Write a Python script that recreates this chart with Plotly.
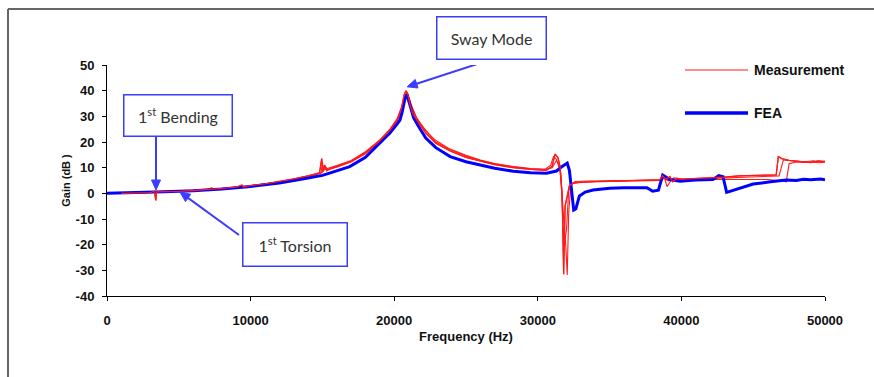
import math
import plotly.graph_objects as go

# ---------------- data ----------------
fea_freq = [0, 2000, 4000, 6000, 8000, 10000, 12000, 14000, 15000, 15500, 16900, 18000,
            19200, 19700, 20200, 20400, 20550, 20750, 20880, 21000, 21150, 21350, 21700,
            22200, 22900, 23900, 25000, 26000, 27000, 28300, 29500, 30600, 31300, 31700,
            32050, 32200, 32350, 32500, 32650, 32900, 33300, 33850, 35000, 36000, 37600,
            38000, 38400, 38700, 39200, 39900, 41000, 42200, 42600, 42900, 43150, 43600,
            44300, 45000, 46200, 47300, 48000, 48500, 49000, 49700, 50000]
fea_gain = [0.0, 0.2, 0.6, 1.0, 1.7, 2.7, 4.0, 6.0, 7.0, 7.9, 10.4, 14.0,
            20.8, 23.5, 27.0, 28.5, 31.5, 37.0, 38.6, 36.0, 33.0, 29.5, 26.0,
            21.5, 17.8, 14.3, 12.3, 11.0, 9.8, 8.6, 8.0, 7.8, 8.7, 10.5,
            11.8, 9.0, 2.0, -6.5, -6.0, -1.0, 0.5, 1.3, 2.0, 2.2, 2.2,
            0.8, 1.2, 7.1, 5.4, 4.7, 5.2, 5.4, 6.9, 6.5, 0.4, 1.2,
            2.6, 3.6, 4.5, 5.2, 5.0, 5.5, 5.3, 5.6, 5.3]

meas1_freq = [1000, 1500, 2000, 2500, 3000, 3300, 3400, 3450, 4000, 5000, 6000, 7000, 8000,
              9000, 9400, 9500, 10000, 11000, 12000, 13000, 14000, 14800, 14950, 15050,
              15150, 15300, 15500, 16000, 17000, 18000, 19000, 19700, 20200, 20500, 20700,
              20820, 20950, 21100, 21300, 21700, 22200, 22900, 23900, 25000, 26000, 27000,
              28300, 29500, 30600, 31000, 31200, 31400, 31550, 31700, 31800, 31900, 32050,
              32200, 32500, 33000, 34000, 35000, 36000, 37000, 38000, 38500, 38700, 38900,
              39200, 39400, 39700, 40000, 41000, 42000, 43000, 44000, 45000, 46000, 46600,
              46750, 47000, 47500, 48000, 48500, 49000, 49500, 50000]
meas1_gain = [0.0, 0.1, 0.2, 0.4, 0.3, 0.8, -2.8, 0.6, 0.6, 0.8, 1.1, 1.4, 1.9,
              2.4, 3.2, 2.5, 3.0, 3.7, 4.6, 5.6, 6.8, 8.0, 13.5, 8.5,
              11.0, 8.8, 9.5, 10.5, 12.5, 15.8, 20.5, 24.5, 28.5, 33.0, 38.5,
              40.0, 38.5, 34.5, 31.0, 27.5, 23.5, 19.5, 16.5, 14.0, 12.5, 11.2,
              10.0, 9.3, 9.0, 10.5, 15.3, 14.0, 10.5, -2.0, -31.5, -5.0, -1.0,
              3.0, 4.0, 4.3, 4.6, 4.7, 4.8, 5.0, 5.2, 5.3, 6.8, 5.5,
              6.5, 4.5, 5.8, 5.5, 5.8, 6.0, 6.3, 6.8, 7.0, 7.1, 7.2,
              14.3, 13.5, 12.8, 12.5, 12.3, 12.0, 12.6, 12.4]

meas2_freq = [1000, 2000, 3000, 4000, 5000, 6000, 7000, 7300, 7400, 8000, 10000, 12000, 14000,
              14900, 15000, 15100, 15400, 16000, 17000, 18000, 19000, 19700, 20200, 20500,
              20750, 20900, 21050, 21250, 21600, 22200, 22900, 23900, 25000, 26000, 27000,
              28300, 29500, 30500, 30900, 31100, 31300, 31600, 31800, 31950, 32050, 32150,
              32300, 32600, 33500, 35000, 37000, 38500, 38800, 39100, 39500, 40000, 41000,
              42000, 43000, 44000, 45000, 46000, 46800, 47100, 47400, 48000, 48600, 49200,
              49600, 50000]
meas2_gain = [0.1, 0.3, 0.4, 0.7, 0.9, 1.2, 1.5, 2.2, 1.5, 1.8, 2.9, 4.4, 6.6,
              7.8, 12.0, 9.0, 9.8, 10.8, 12.8, 16.2, 20.8, 25.0, 29.0, 33.5,
              37.5, 39.5, 37.0, 33.5, 29.0, 24.5, 20.0, 17.0, 14.5, 12.8, 11.5,
              10.3, 9.6, 9.3, 11.0, 14.5, 13.2, 8.0, -10.0, -20.5, -31.8, -8.0,
              3.5, 4.6, 4.8, 4.9, 5.0, 5.1, 5.8, 4.9, 6.0, 5.6, 5.6,
              5.8, 6.0, 6.2, 6.5, 6.6, 6.8, 13.0, 12.9, 12.6, 12.3, 12.7,
              12.2, 12.5]

meas3_freq = [1000, 2000, 3000, 4000, 5000, 6000, 8000, 10000, 12000, 14000, 15000, 15200,
              15400, 16000, 17000, 18000, 19000, 19700, 20200, 20500, 20700, 20850, 21000,
              21200, 21500, 22000, 22800, 23800, 25000, 26000, 27000, 28300, 29500, 30600,
              31000, 31300, 31500, 31650, 31750, 31850, 32000, 32150, 32400, 33000, 35000,
              37000, 38600, 38800, 39000, 39300, 40000, 41000, 42000, 43000, 44000, 45000,
              46000, 47000, 47300, 47500, 48000, 48500, 49000, 49500, 50000]
meas3_gain = [0.0, 0.2, 0.3, 0.6, 0.8, 1.0, 1.8, 2.8, 4.3, 6.4, 8.2, 10.5,
              9.2, 10.2, 12.2, 15.4, 20.0, 24.0, 28.0, 32.0, 36.5, 38.8, 37.5,
              34.0, 30.0, 25.5, 21.0, 17.5, 14.8, 13.0, 11.6, 10.4, 9.7, 9.4,
              10.0, 12.8, 11.0, 3.0, -12.0, -20.0, -14.0, 1.0, 3.8, 4.4, 4.6,
              4.8, 5.0, 6.5, 2.6, 5.2, 5.3, 5.4, 5.4, 5.5, 5.4, 5.4,
              5.4, 4.8, 4.5, 11.5, 12.2, 12.0, 12.3, 11.9, 12.1]

y_ticks = [-40, -30, -20, -10, 0, 10, 20, 30, 40, 50]
x_ticks = [0, 10000, 20000, 30000, 40000, 50000]

# callout targets (frequency, gain) and labels
callout_labels = ["Sway Mode", "1<sup>st</sup> Bending", "1<sup>st</sup> Torsion"]
callout_targets = [(20900, 41.5), (3412, 1.3), (5084, 0.5)]

RED = "#ff1a1a"
BLUE = "#0000ff"
BOXBLUE = "#3c3cff"

fig = go.Figure()
for fq, g in [(meas1_freq, meas1_gain), (meas2_freq, meas2_gain), (meas3_freq, meas3_gain)]:
    fig.add_trace(go.Scatter(x=fq, y=g, mode="lines", name="Measurement",
                             line=dict(color=RED, width=1.1), showlegend=False))
fig.add_trace(go.Scatter(x=fea_freq, y=fea_gain, mode="lines", name="FEA",
                         line=dict(color=BLUE, width=3), showlegend=False))
fig.add_trace(go.Scatter(x=meas1_freq, y=meas1_gain, mode="lines", name="Measurement",
                         line=dict(color=RED, width=1.3), showlegend=False))

L, R, T, B = 107, 49, 65, 81
PW, PH = 874 - L - R, 377 - T - B

def px(xp):
    return (xp - L) / PW

def py(yp):
    return (377 - B - yp) / PH

bold_font = dict(family="Liberation Sans, Arial", color="#111111", weight="bold")

fig.update_layout(
    width=874, height=377,
    margin=dict(l=L, r=R, t=T, b=B, pad=0),
    paper_bgcolor="white", plot_bgcolor="white",
    showlegend=False,
    xaxis=dict(range=[0, 50000], tickvals=x_ticks, ticktext=[str(v) for v in x_ticks],
               showgrid=False, zeroline=False, showline=True, linecolor="black", linewidth=1,
               ticks="outside", ticklen=4, tickcolor="black", ticklabelstandoff=8,
               tickfont=dict(**bold_font, size=13),
               title=dict(text="Frequency (Hz)", font=dict(**bold_font, size=13), standoff=5)),
    yaxis=dict(range=[-40, 50], tickvals=y_ticks, ticktext=[str(v) for v in y_ticks],
               showgrid=False, zeroline=False, showline=True, linecolor="black", linewidth=1,
               ticks="outside", ticklen=4, tickcolor="black", ticklabelstandoff=5,
               tickfont=dict(**bold_font, size=13),
               title=dict(text="Gain (dB )", font=dict(**bold_font, size=11), standoff=2)),
)

shapes = [
    # outer frame (top & left)
    dict(type="line", xref="paper", yref="paper", x0=px(8), x1=px(874), y0=py(9), y1=py(9),
         line=dict(color="#666666", width=2)),
    dict(type="line", xref="paper", yref="paper", x0=px(8), x1=px(8), y0=py(9), y1=py(377),
         line=dict(color="#666666", width=2)),
    # legend lines
    dict(type="line", xref="paper", yref="paper", x0=px(685), x1=px(748), y0=py(70), y1=py(70),
         line=dict(color=RED, width=1.2)),
    dict(type="line", xref="paper", yref="paper", x0=px(685), x1=px(748), y0=py(113), y1=py(113),
         line=dict(color=BLUE, width=3.5)),
]

# arrows: tail offsets in screen pixels (dx right, dy down) from the arrow tip
tail_offsets = [(83, -27), (0, -53), (59, 43)]
for (fx, gy), (dx, dy) in zip(callout_targets, tail_offsets):
    # pixel shapes: y positive upwards
    tx, ty = dx, -dy
    n = math.hypot(tx, ty)
    ux, uy = tx / n, ty / n          # unit vector from tip to tail
    hl, hw = 10, 4.5                  # head length, half width
    bx, by = ux * hl, uy * hl
    pxv, pyv = -uy * hw, ux * hw
    shapes.append(dict(type="line", xref="x", yref="y", xsizemode="pixel", ysizemode="pixel",
                       xanchor=fx, yanchor=gy, x0=tx, y0=ty, x1=bx * 0.6, y1=by * 0.6,
                       line=dict(color=BOXBLUE, width=2)))
    path = (f"M0,0 L{bx + pxv:.2f},{by + pyv:.2f} L{bx - pxv:.2f},{by - pyv:.2f} Z")
    shapes.append(dict(type="path", xref="x", yref="y", xsizemode="pixel", ysizemode="pixel",
                       xanchor=fx, yanchor=gy, path=path, fillcolor=BOXBLUE,
                       line=dict(color=BOXBLUE, width=1)))
fig.update_layout(shapes=shapes)

box_font = dict(family="Lato, Open Sans", size=16, color="#333333")
box_centers = [(491.5, 38), (178, 115.5), (295, 244.5)]
box_sizes = [(108, 41), (107, 40), (103, 42)]
annotations = [
    dict(text="Measurement", xref="paper", yref="paper", x=px(752), y=py(70),
         xanchor="left", yanchor="middle", showarrow=False, font=dict(**bold_font, size=14)),
    dict(text="FEA", xref="paper", yref="paper", x=px(752), y=py(113),
         xanchor="left", yanchor="middle", showarrow=False, font=dict(**bold_font, size=14)),
]
for lab, (cx, cy), (w, h) in zip(callout_labels, box_centers, box_sizes):
    annotations.append(dict(text=lab, xref="paper", yref="paper", x=px(cx), y=py(cy),
                            xanchor="center", yanchor="middle", showarrow=False, width=w, height=h,
                            bordercolor=BOXBLUE, borderwidth=1.5, borderpad=0, bgcolor="white",
                            font=box_font))
fig.update_layout(annotations=annotations)

fig.write_html("out.html")
